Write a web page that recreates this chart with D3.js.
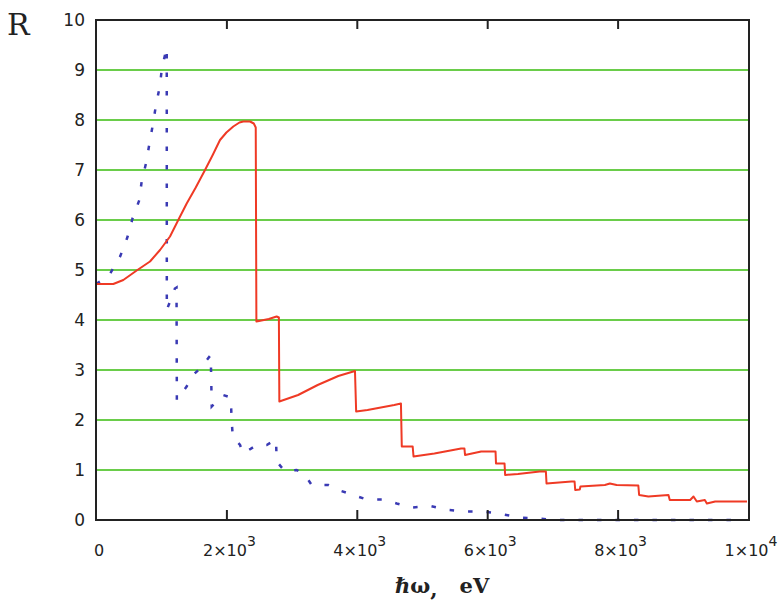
<!DOCTYPE html>
<html>
<head>
<meta charset="utf-8">
<script src="https://cdn.jsdelivr.net/npm/d3@7"></script>
<style>
    body { margin: 0; background: #fff; }
    .tick-label { font-family: "DejaVu Sans", sans-serif; fill: #222; }
</style>
</head>
<body>
<div id="chart"></div>
<script>
// tick values and labels
const yTicks = [0, 1, 2, 3, 4, 5, 6, 7, 8, 9, 10];
const gridValues = [1, 2, 3, 4, 5, 6, 7, 8, 9];
const xTicks = [0, 2000, 4000, 6000, 8000, 10000];
const xTickMant = ["0", "2×10", "4×10", "6×10", "8×10", "1×10"];
const xTickExp = ["", "3", "3", "3", "3", "4"];

// solid red curve (energy in eV, R)
const redX = [0, 265, 419, 624, 828, 982, 1135, 1262, 1391, 1530, 1672, 1790, 1902, 2000, 2106, 2200, 2259, 2362, 2420, 2450, 2460,
    2500, 2650, 2770, 2805, 2812, 3100, 3400, 3716, 3972, 3990, 4164, 4574, 4677, 4690, 4857, 4870, 5190, 5600, 5651, 5660,
    5908, 6128, 6135, 6266, 6275, 6472, 6805, 6900, 6910, 7292, 7340, 7350, 7420, 7430, 7805, 7882, 7985, 8318, 8330,
    8472, 8780, 8800, 9113, 9164, 9215, 9338, 9369, 9497, 9985];
const redR = [4.72, 4.72, 4.8, 4.99, 5.17, 5.4, 5.67, 6.0, 6.33, 6.65, 7.0, 7.3, 7.6, 7.75, 7.87, 7.95, 7.97, 7.97, 7.93, 7.85, 3.97,
    3.98, 4.02, 4.07, 4.05, 2.37, 2.5, 2.7, 2.88, 2.98, 2.17, 2.2, 2.3, 2.33, 1.47, 1.47, 1.27, 1.33, 1.43, 1.43, 1.3,
    1.37, 1.37, 1.13, 1.13, 0.9, 0.92, 0.97, 0.97, 0.73, 0.77, 0.77, 0.6, 0.61, 0.67, 0.7, 0.73, 0.7, 0.69, 0.5,
    0.47, 0.5, 0.4, 0.4, 0.47, 0.37, 0.4, 0.33, 0.37, 0.37];

// dotted blue curve
const blueX = [0, 190, 370, 480, 560, 665, 700, 770, 820, 875, 920, 980, 1010, 1085, 1086, 1210, 1235, 1240, 1390, 1490, 1595,
    1760, 1775, 1950, 2066, 2081, 2097, 2209, 2259, 2465, 2618, 2761, 2771, 2899, 3078, 3206, 3308, 3563, 3716, 3922,
    4152, 4406, 4612, 4842, 5123, 5403, 5686, 5940, 6170, 6503, 6759, 7066, 9750];
const blueR = [4.72, 4.87, 5.27, 5.65, 6.03, 6.4, 6.77, 7.15, 7.53, 7.93, 8.3, 8.68, 9.03, 9.45, 4.2, 4.63, 4.65, 2.4, 2.67, 2.9, 3.03,
    3.3, 2.27, 2.5, 2.45, 2.0, 1.67, 1.5, 1.33, 1.5, 1.5, 1.61, 1.17, 0.97, 1.0, 0.9, 0.7, 0.7, 0.6, 0.51,
    0.41, 0.41, 0.33, 0.25, 0.28, 0.2, 0.17, 0.17, 0.13, 0.05, 0.03, 0.0, 0.0];

const width = 781;
const height = 604;
const plotLeft = 96, plotRight = 748, plotTop = 20, plotBottom = 520;

const svg = d3.select("#chart")
    .append("svg")
    .attr("width", width)
    .attr("height", height);

const xScale = d3.scaleLinear().domain([0, 10000]).range([plotLeft, plotRight]);
const yScale = d3.scaleLinear().domain([0, 10]).range([plotBottom, plotTop]);

// green grid
svg.selectAll("line.grid")
    .data(gridValues)
    .enter()
    .append("line")
    .attr("class", "grid")
    .attr("x1", plotLeft)
    .attr("x2", plotRight + 1)
    .attr("y1", d => yScale(d))
    .attr("y2", d => yScale(d))
    .attr("stroke", "#6acd4a")
    .attr("stroke-width", 2);

const line = d3.line()
    .x(d => xScale(d[0]))
    .y(d => yScale(d[1]));

svg.append("path")
    .datum(blueX.map((x, i) => [x, blueR[i]]))
    .attr("d", line)
    .attr("fill", "none")
    .attr("stroke", "#3a3ab4")
    .attr("stroke-width", 2.5)
    .attr("stroke-dasharray", "4.5 14");

svg.append("path")
    .datum(redX.map((x, i) => [x, redR[i]]))
    .attr("d", line)
    .attr("fill", "none")
    .attr("stroke", "#ef3a25")
    .attr("stroke-width", 2)
    .attr("stroke-linejoin", "round");

// frame
svg.append("rect")
    .attr("x", plotLeft)
    .attr("y", plotTop)
    .attr("width", plotRight - plotLeft + 1)
    .attr("height", plotBottom - plotTop)
    .attr("fill", "none")
    .attr("stroke", "#222")
    .attr("stroke-width", 2);

// x ticks, pointing inward on top and bottom
const xAxis = d3.axisBottom(xScale)
    .tickValues(xTicks.slice(1, 5))
    .tickSizeInner(-10)
    .tickSizeOuter(0)
    .tickFormat("");
svg.append("g")
    .attr("transform", "translate(0," + plotBottom + ")")
    .call(xAxis)
    .call(g => g.select(".domain").remove())
    .selectAll("line").attr("stroke", "#222").attr("stroke-width", 2);

const xAxisTop = d3.axisTop(xScale)
    .tickValues(xTicks.slice(1, 5))
    .tickSizeInner(-9)
    .tickSizeOuter(0)
    .tickFormat("");
svg.append("g")
    .attr("transform", "translate(0," + plotTop + ")")
    .call(xAxisTop)
    .call(g => g.select(".domain").remove())
    .selectAll("line").attr("stroke", "#222").attr("stroke-width", 2);

// y labels
const yAxis = d3.axisLeft(yScale)
    .tickValues(yTicks)
    .tickSize(0)
    .tickPadding(11);
svg.append("g")
    .attr("transform", "translate(" + plotLeft + ",0)")
    .call(yAxis)
    .call(g => g.select(".domain").remove())
    .selectAll("text")
    .attr("class", "tick-label")
    .attr("font-size", 17)
    .attr("fill", "#222");

// x labels with superscripts
const xLabels = svg.selectAll("text.xlab")
    .data(xTicks)
    .enter()
    .append("text")
    .attr("class", "xlab tick-label")
    .attr("x", d => xScale(d) + 3)
    .attr("y", 556)
    .attr("text-anchor", "middle")
    .attr("font-size", 16);
xLabels.append("tspan")
    .text((d, i) => xTickMant[i]);
xLabels.append("tspan")
    .attr("dy", -10)
    .attr("font-size", 14)
    .text((d, i) => xTickExp[i]);

// axis titles
svg.append("text")
    .attr("x", 7)
    .attr("y", 35)
    .attr("font-family", "DejaVu Serif, serif")
    .attr("font-size", 30)
    .attr("fill", "#222")
    .text("R");

const xTitle = svg.append("text")
    .attr("x", 395)
    .attr("y", 593)
    .attr("font-family", "DejaVu Serif, serif")
    .attr("font-weight", "bold")
    .attr("font-size", 21)
    .attr("fill", "#222");
xTitle.append("tspan").text("ℏω");
xTitle.append("tspan").attr("dy", 3).text(",");
xTitle.append("tspan").attr("dy", -3).attr("dx", 22).text("eV");
</script>
</body>
</html>
